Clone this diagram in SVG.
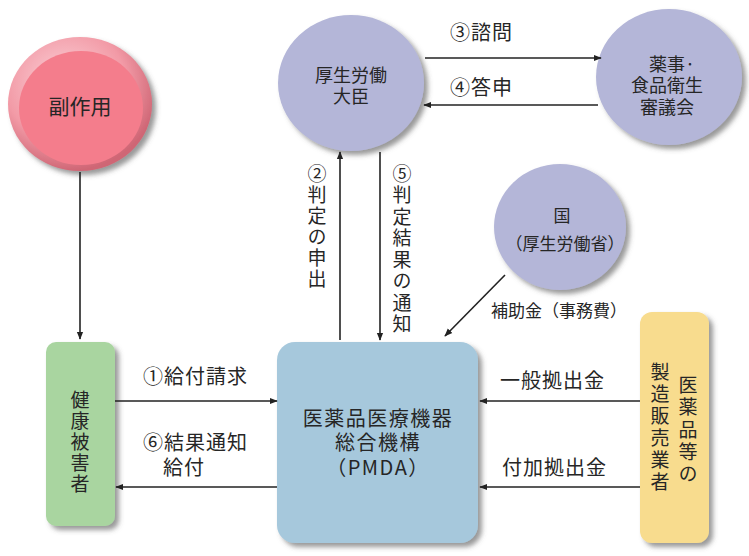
<svg xmlns="http://www.w3.org/2000/svg" width="749" height="556" viewBox="0 0 749 556">
<defs>
  <filter id="sh" x="-20%" y="-20%" width="150%" height="150%">
    <feDropShadow dx="4" dy="4" stdDeviation="2.5" flood-color="#555" flood-opacity="0.6"/>
  </filter>
  <radialGradient id="ring" cx="40%" cy="35%" r="65%">
    <stop offset="0" stop-color="#fcd6dc"/>
    <stop offset="0.65" stop-color="#f29aa6"/>
    <stop offset="1" stop-color="#cf6675"/>
  </radialGradient>
  <marker id="ah" viewBox="0 0 10 10" refX="9" refY="5" markerWidth="8" markerHeight="8" orient="auto" markerUnits="userSpaceOnUse">
    <path d="M0,1 L10,5 L0,9 Z" fill="#222"/>
  </marker>
  <style>
    text { font-family: "Noto Sans CJK JP", "Noto Sans", sans-serif; fill: #262626; }
    .nd { font-size: 18px; text-anchor: middle; }
    .n17 { font-size: 17px; text-anchor: middle; }
    .big { font-size: 20px; text-anchor: middle; letter-spacing: 1.5px; }
    .lbl { font-size: 20px; letter-spacing: 1px; }
    .vt { font-size: 19px; writing-mode: vertical-rl; text-orientation: upright; }
    .conn line { stroke: #222; stroke-width: 1.6; marker-end: url(#ah); }
    .lav { fill: #b4b6d8; }
  </style>
</defs>
<rect width="749" height="556" fill="#fff"/>

<g id="fukusayou">
  <ellipse cx="80" cy="104" rx="72" ry="67" fill="url(#ring)" filter="url(#sh)"/>
  <ellipse cx="81" cy="108" rx="62" ry="57" fill="#f47d8c"/>
  <text x="80" y="114" style="font-size:21px;text-anchor:middle">副作用</text>
</g>

<g id="daijin">
  <ellipse cx="351" cy="83" rx="73" ry="68" class="lav" filter="url(#sh)"/>
  <text class="nd" x="351" y="82">厚生労働</text>
  <text class="nd" x="351" y="103">大臣</text>
</g>

<g id="shingikai">
  <ellipse cx="669" cy="77" rx="73" ry="68" class="lav" filter="url(#sh)"/>
  <text class="nd" x="672" y="71">薬事·</text>
  <text class="nd" x="667" y="92">食品衛生</text>
  <text class="nd" x="667" y="114">審議会</text>
</g>

<g id="kuni">
  <ellipse cx="560" cy="227" rx="66" ry="63" class="lav" filter="url(#sh)"/>
  <text class="n17" x="562" y="222">国</text>
  <text class="n17" x="565" y="250">（厚生労働省）</text>
</g>

<g id="higaisha">
  <rect x="46" y="342" width="69" height="184" rx="10" fill="#a9d5a0" filter="url(#sh)"/>
  <text class="vt" x="80" y="390" style="letter-spacing:2px">健康被害者</text>
</g>

<g id="pmda">
  <rect x="277" y="342" width="201" height="201" rx="18" fill="#a6c8dc" filter="url(#sh)"/>
  <text class="big" x="378" y="426">医薬品医療機器</text>
  <text class="big" x="378" y="450">総合機構</text>
  <text class="big" x="378" y="475">（PMDA）</text>
</g>

<g id="seizou">
  <rect x="640" y="312" width="69" height="231" rx="12" fill="#f8dc8e" filter="url(#sh)"/>
  <text class="vt" x="688" y="375" style="letter-spacing:3.4px">医薬品等の</text>
  <text class="vt" x="660" y="362" style="letter-spacing:3px">製造販売業者</text>
</g>

<g id="connectors" class="conn">
  <line x1="80" y1="172" x2="80" y2="339"/>
  <line x1="425" y1="58" x2="601" y2="58"/>
  <line x1="598" y1="105" x2="424" y2="105"/>
  <line x1="340" y1="340" x2="340" y2="152"/>
  <line x1="380" y1="152" x2="380" y2="340"/>
  <line x1="505" y1="275" x2="445" y2="336"/>
  <line x1="115" y1="401" x2="277" y2="401"/>
  <line x1="277" y1="487" x2="116" y2="487"/>
  <line x1="640" y1="401" x2="480" y2="401"/>
  <line x1="640" y1="487" x2="480" y2="487"/>
</g>

<g id="labels">
  <text class="lbl" x="450" y="40">③諮問</text>
  <text class="lbl" x="450" y="95">④答申</text>
  <text class="vt" x="317" y="164" style="letter-spacing:2px">②判定の申出</text>
  <text class="vt" x="402" y="164" style="letter-spacing:2.5px">⑤判定結果の通知</text>
  <text class="n17" x="559" y="317">補助金（事務費）</text>
  <text class="lbl" x="143" y="384">①給付請求</text>
  <text class="lbl" x="143" y="450">⑥結果通知</text>
  <text class="lbl" x="163" y="475">給付</text>
  <text class="lbl" x="500" y="388">一般拠出金</text>
  <text class="lbl" x="502" y="475">付加拠出金</text>
</g>
</svg>
